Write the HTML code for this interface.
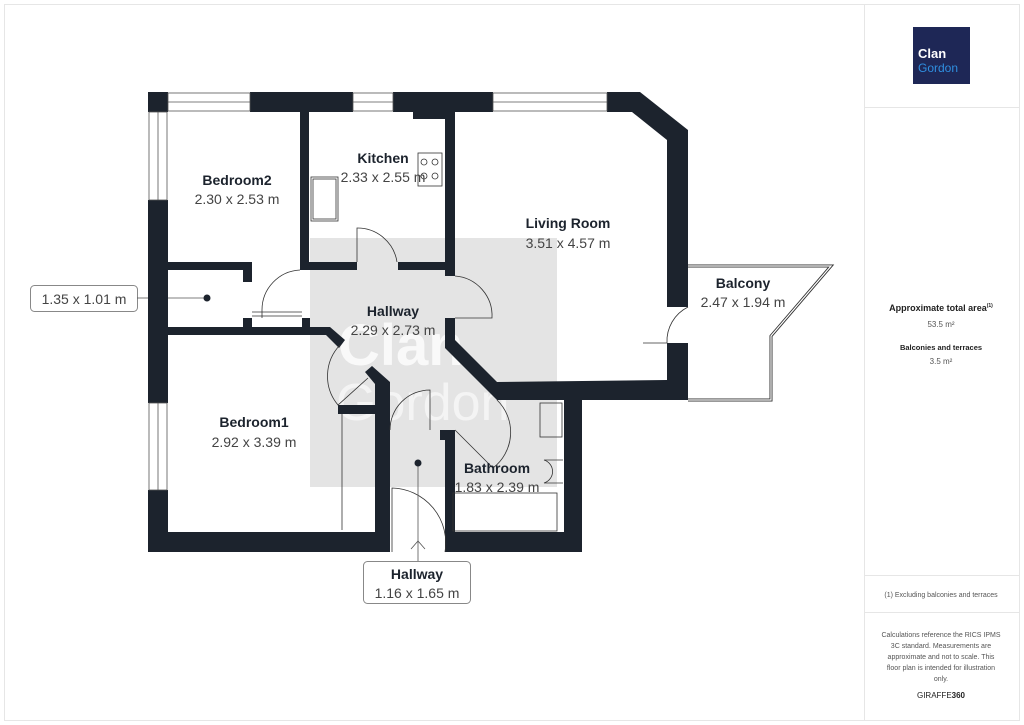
<!DOCTYPE html>
<html><head><meta charset="utf-8"><style>
html,body{margin:0;padding:0;background:#fff;}
svg{display:block;font-family:"Liberation Sans",sans-serif;}
</style></head><body>
<svg width="1024" height="725" viewBox="0 0 1024 725" xmlns="http://www.w3.org/2000/svg">
<rect x="4.5" y="4.5" width="1015" height="716" fill="#fff" stroke="#e6e6e6"/>
<line x1="864.5" y1="4" x2="864.5" y2="720" stroke="#e6e6e6"/>
<line x1="864" y1="107.5" x2="1019" y2="107.5" stroke="#e6e6e6"/>
<line x1="864" y1="575.5" x2="1019" y2="575.5" stroke="#e6e6e6"/>
<line x1="864" y1="612.5" x2="1019" y2="612.5" stroke="#e6e6e6"/>
<rect x="913" y="27" width="57" height="57" fill="#1e2756"/>
<text x="918" y="58" font-size="13" font-weight="bold" fill="#fff">Clan</text>
<text x="918" y="72" font-size="12" fill="#2f8fe0">Gordon</text>
<text x="941" y="311" font-size="9" font-weight="bold" fill="#222" text-anchor="middle">Approximate total area<tspan font-size="5" dy="-4">(1)</tspan></text>
<text x="941" y="327" font-size="8" fill="#555" text-anchor="middle">53.5 m²</text>
<text x="941" y="350" font-size="7.5" font-weight="bold" fill="#222" text-anchor="middle">Balconies and terraces</text>
<text x="941" y="364" font-size="8" fill="#555" text-anchor="middle">3.5 m²</text>
<text x="941" y="597" font-size="7" fill="#555" text-anchor="middle">(1) Excluding balconies and terraces</text>
<g font-size="7" fill="#555" text-anchor="middle">
<text x="941" y="637">Calculations reference the RICS IPMS</text>
<text x="941" y="648">3C standard. Measurements are</text>
<text x="941" y="659">approximate and not to scale. This</text>
<text x="941" y="670">floor plan is intended for illustration</text>
<text x="941" y="681">only.</text>
</g>
<text x="941" y="698" font-size="8" fill="#222" text-anchor="middle">GIRAFFE<tspan font-weight="bold">360</tspan></text>

<!-- watermark -->
<rect x="310" y="238" width="247" height="249" fill="#e4e4e4"/>
<text x="338" y="365" font-size="58" font-weight="bold" fill="#fff" opacity="0.8">Clan</text>
<text x="336" y="420" font-size="52" fill="#fff" opacity="0.6">Gordon</text>

<!-- balcony -->
<path d="M688 266 H831 L771 336 V400 H688" fill="none" stroke="#333" stroke-width="3"/>
<path d="M688 266 H831 L771 336 V400 H688" fill="none" stroke="#fff" stroke-width="1.2"/>

<g fill="#1c232d">
<!-- top wall -->
<rect x="148" y="92" width="20" height="20"/>
<rect x="250" y="92" width="103" height="20"/>
<rect x="393" y="92" width="100" height="20"/>
<rect x="413" y="112" width="32" height="7"/>
<polygon points="607,92 640,92 688,130 688,400 667,400 667,343 688,343 688,307 667,307 667,140 632,112 607,112"/>
<!-- left wall -->
<rect x="148" y="200" width="20" height="203"/>
<rect x="148" y="490" width="20" height="62"/>
<rect x="148" y="532" width="242" height="20"/>
<!-- interior -->
<rect x="300" y="112" width="9" height="156"/>
<rect x="445" y="112" width="10" height="164"/>
<rect x="300" y="262" width="57" height="8"/>
<rect x="398" y="262" width="57" height="8"/>
<rect x="168" y="262" width="84" height="8"/>
<rect x="243" y="262" width="9" height="20"/>
<rect x="243" y="318" width="9" height="10"/>
<rect x="302" y="318" width="8" height="10"/>
<polygon points="168,327 330,327 345,340 339,348 326,335 168,335"/>
<polygon points="445,318 455,318 455,340 497,382 667,380 688,380 688,400 582,400 582,552 445,552 445,430 455,430 455,532 564,532 564,400 497,400 445,348"/>
<polygon points="365,372 372,366 390,382 390,552 375,552 375,384"/>
<rect x="338" y="405" width="40" height="9"/>
<rect x="383" y="430" width="7" height="10"/>
<rect x="440" y="430" width="15" height="10"/>
</g>

<!-- windows -->
<g fill="none" stroke="#555" stroke-width="0.8">
<rect x="168" y="93" width="82" height="18"/><line x1="168" y1="102" x2="250" y2="102"/>
<rect x="353" y="93" width="40" height="18"/><line x1="353" y1="102" x2="393" y2="102"/>
<rect x="493" y="93" width="114" height="18"/><line x1="493" y1="102" x2="607" y2="102"/>
<rect x="149" y="112" width="18" height="88"/><line x1="158" y1="112" x2="158" y2="200"/>
<rect x="149" y="403" width="18" height="87"/><line x1="158" y1="403" x2="158" y2="490"/>
</g>

<!-- doors -->
<g fill="none" stroke="#333" stroke-width="0.8">
<path d="M357 262 V228 A40 40 0 0 1 397 262"/>
<path d="M455 276 A40 40 0 0 1 492 318 H455"/>
<path d="M300 270 A40 40 0 0 0 262 310 V318"/>
<path d="M252 312 H302 M252 316 H302"/>
<path d="M340 345 A45 45 0 0 0 338 405 L368 378"/>
<path d="M390 430 A40 40 0 0 1 430 390 V430"/>
<path d="M455 430 L493 468 A45 45 0 0 0 497 400"/>
<path d="M392 552 V488 A55 55 0 0 1 445 552"/>
<path d="M667 343 A38 38 0 0 1 688 307 M643 343 H667"/>
<path d="M342 414 V530"/>
<rect x="418" y="153" width="24" height="33"/>
<circle cx="424" cy="162" r="3"/><circle cx="435" cy="162" r="3"/>
<circle cx="424" cy="176" r="3"/><circle cx="435" cy="176" r="3"/>
<rect x="311" y="177" width="27" height="44"/><rect x="313" y="179" width="23" height="40"/>
<rect x="540" y="403" width="22" height="34"/>
<path d="M563 460 H544 A12 12 0 0 1 544 483 H563"/>
<rect x="453" y="493" width="104" height="38"/>
</g>

<!-- label boxes -->
<rect x="30.5" y="285.5" width="107" height="26" rx="4" fill="#fff" stroke="#888"/>
<text x="84" y="304" font-size="14" fill="#444" text-anchor="middle">1.35 x 1.01 m</text>
<line x1="137" y1="298" x2="148" y2="298" stroke="#555" stroke-width="0.8"/>
<line x1="168" y1="298" x2="206" y2="298" stroke="#555" stroke-width="0.8"/>
<circle cx="207" cy="298" r="3.5" fill="#1c232d"/>
<line x1="418" y1="463" x2="418" y2="561" stroke="#555" stroke-width="0.8"/>
<path d="M411 549 L418 541 L425 549" fill="none" stroke="#555" stroke-width="0.8"/>
<circle cx="418" cy="463" r="3.5" fill="#1c232d"/>
<rect x="363.5" y="561.5" width="107" height="42" rx="4" fill="#fff" stroke="#888"/>
<text x="417" y="579" font-size="14" font-weight="bold" fill="#1c232d" text-anchor="middle">Hallway</text>
<text x="417" y="598" font-size="14" fill="#444" text-anchor="middle">1.16 x 1.65 m</text>

<!-- room labels -->
<g font-size="14" text-anchor="middle">
<text x="237" y="185" font-weight="bold" fill="#1c232d">Bedroom2</text>
<text x="237" y="204" fill="#444">2.30 x 2.53 m</text>
<text x="383" y="163" font-weight="bold" fill="#1c232d">Kitchen</text>
<text x="383" y="182" fill="#444">2.33 x 2.55 m</text>
<text x="568" y="228" font-weight="bold" fill="#1c232d">Living Room</text>
<text x="568" y="248" fill="#444">3.51 x 4.57 m</text>
<text x="393" y="316" font-weight="bold" fill="#1c232d">Hallway</text>
<text x="393" y="335" fill="#444">2.29 x 2.73 m</text>
<text x="743" y="288" font-weight="bold" fill="#1c232d">Balcony</text>
<text x="743" y="307" fill="#444">2.47 x 1.94 m</text>
<text x="254" y="427" font-weight="bold" fill="#1c232d">Bedroom1</text>
<text x="254" y="447" fill="#444">2.92 x 3.39 m</text>
<text x="497" y="473" font-weight="bold" fill="#1c232d">Bathroom</text>
<text x="497" y="492" fill="#444">1.83 x 2.39 m</text>
</g>
</svg>
</body></html>
